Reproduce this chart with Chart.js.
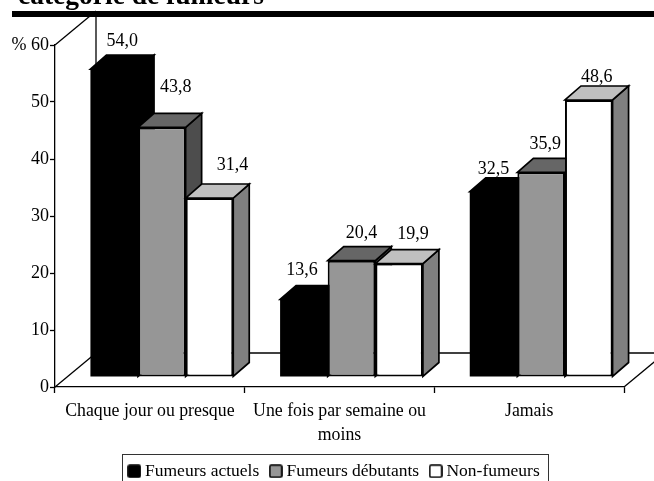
<!DOCTYPE html>
<html lang="fr">
<head>
<meta charset="utf-8">
<style>
  html, body { margin: 0; padding: 0; background: #fff; overflow: hidden; }
  #wrap { width: 654px; height: 481px; }
</style>
<script src="https://cdn.jsdelivr.net/npm/chart.js@4/dist/chart.umd.min.js"></script>
</head>
<body>
<div id="wrap"><canvas id="chart" width="654" height="481"></canvas></div>
<script>
const categories = [["Chaque jour ou presque"], ["Une fois par semaine ou", "moins"], ["Jamais"]];
const fumeursActuels = [54.0, 13.6, 32.5];
const fumeursDebutants = [43.8, 20.4, 35.9];
const nonFumeurs = [31.4, 19.9, 48.6];
const yTicks = [0, 10, 20, 30, 40, 50, 60];
const heading = "catégorie de fumeurs";

// Hand-placed offsets of the value labels, relative to the centre of each bar's top face.
const labelShiftActuels = [[0, -9], [-10, -10], [-8, -4]];
const labelShiftDebutants = [[6, -21], [2, -9], [-4, -9]];
const labelShiftNonFumeurs = [[15, -14], [6, -11], [0, -4]];

const SERIF = '"Liberation Serif", "Times New Roman", serif';
const INK = '#000';
const DEPTH_X = 41, DEPTH_Y = 34;     // full floor depth of the oblique projection
const BAR_DX = 16, BAR_DY = 14;       // depth of a single bar
const LIFT_X = 12, LIFT_Y = 10;       // bars stand inside the floor, not on its front edge

const faces = [
  { front: '#000000', top: '#000000', side: '#000000' },
  { front: '#969696', top: '#666666', side: '#4d4d4d' },
  { front: '#ffffff', top: '#c0c0c0', side: '#808080' }
];
const shifts = [labelShiftActuels, labelShiftDebutants, labelShiftNonFumeurs];

function swatch(color) {
  const c = document.createElement('canvas');
  c.width = 14; c.height = 14;
  const g = c.getContext('2d');
  g.fillStyle = color;
  g.strokeStyle = INK;
  g.lineWidth = 1.7;
  g.beginPath();
  g.roundRect(1, 1, 12, 12, 1.5);
  g.fill();
  g.stroke();
  return c;
}

function polygon(ctx, pts, fill) {
  ctx.beginPath();
  pts.forEach((p, i) => i ? ctx.lineTo(p[0], p[1]) : ctx.moveTo(p[0], p[1]));
  ctx.closePath();
  ctx.fillStyle = fill;
  ctx.fill();
  ctx.stroke();
}

function line(ctx, x0, y0, x1, y1) {
  ctx.beginPath();
  ctx.moveTo(x0, y0);
  ctx.lineTo(x1, y1);
  ctx.stroke();
}

function drawValueLabels(chart) {
  const { ctx } = chart;
  ctx.save();
  ctx.font = '18px ' + SERIF;
  ctx.fillStyle = INK;
  ctx.textAlign = 'center';
  ctx.textBaseline = 'alphabetic';
  chart.data.datasets.forEach((ds, di) => {
    chart.getDatasetMeta(di).data.forEach((bar, i) => {
      const p = bar.getProps(['x', 'y'], true);
      const s = shifts[di][i];
      const text = ds.data[i].toFixed(1).replace('.', ',');
      ctx.fillText(text, p.x + LIFT_X + BAR_DX / 2 + s[0], p.y - LIFT_Y - BAR_DY + s[1]);
    });
  });
  ctx.restore();
}

const obliqueBars = {
  id: 'obliqueBars',
  afterLayout(chart) {
    // Legend sits right of the page centre, low against the bottom edge.
    const lg = chart.legend;
    const dx = 24;
    lg.left += dx; lg.right += dx;
    lg.top = 448;
    lg.bottom = lg.top + lg.height;
    // The category labels run on two lines and need room above the legend frame.
    chart.scales.x.bottom = 453;
  },
  beforeDatasetsDraw(chart) {
    const { ctx, chartArea: a } = chart;
    ctx.save();
    ctx.strokeStyle = INK;
    ctx.lineWidth = 1.3;
    // back wall and floor
    line(ctx, a.left, a.top, a.left + DEPTH_X, a.top - DEPTH_Y);
    line(ctx, a.left + DEPTH_X, a.top - DEPTH_Y, a.left + DEPTH_X, a.bottom - DEPTH_Y);
    line(ctx, a.left, a.bottom, a.left + DEPTH_X, a.bottom - DEPTH_Y);
    line(ctx, a.left + DEPTH_X, a.bottom - DEPTH_Y, a.right + DEPTH_X, a.bottom - DEPTH_Y);
    line(ctx, a.right, a.bottom, a.right + DEPTH_X, a.bottom - DEPTH_Y);

    // bars, painted series by series so each one overlaps the side of the previous
    ctx.translate(LIFT_X, -LIFT_Y);
    ctx.lineWidth = 1.7;
    ctx.lineJoin = 'miter';
    chart.data.datasets.forEach((ds, di) => {
      const face = faces[di];
      chart.getDatasetMeta(di).data.forEach((bar) => {
        const p = bar.getProps(['x', 'y', 'base', 'width'], true);
        const l = p.x - p.width / 2, r = p.x + p.width / 2;
        polygon(ctx, [[r, p.y], [r + BAR_DX, p.y - BAR_DY], [r + BAR_DX, p.base - BAR_DY], [r, p.base]], face.side);
        polygon(ctx, [[l, p.y], [l + BAR_DX, p.y - BAR_DY], [r + BAR_DX, p.y - BAR_DY], [r, p.y]], face.top);
        bar.draw(ctx, a);
      });
    });
    ctx.restore();
    drawValueLabels(chart);
    return false;
  },
  afterDraw(chart) {
    const { ctx } = chart;
    ctx.save();
    // heading cut by the top of the page, with its thick rule
    ctx.fillStyle = INK;
    ctx.font = 'bold 27.5px ' + SERIF;
    ctx.textAlign = 'left';
    ctx.textBaseline = 'alphabetic';
    ctx.fillText(heading, 18, 4);
    ctx.fillRect(12, 11, 642, 6);
    // frame of the legend
    ctx.strokeStyle = '#333';
    ctx.lineWidth = 1;
    ctx.strokeRect(122.5, 454.5, 426, 30);
    ctx.restore();
  }
};

new Chart(document.getElementById('chart'), {
  type: 'bar',
  plugins: [obliqueBars],
  data: {
    labels: categories,
    datasets: [
      { label: 'Fumeurs actuels', data: fumeursActuels, backgroundColor: faces[0].front, borderWidth: 0 },
      { label: 'Fumeurs débutants', data: fumeursDebutants, backgroundColor: faces[1].front, borderColor: INK, borderWidth: 2 },
      { label: 'Non-fumeurs', data: nonFumeurs, backgroundColor: faces[2].front, borderColor: INK, borderWidth: 2 }
    ]
  },
  options: {
    responsive: false,
    animation: false,
    events: [],
    layout: { padding: { left: 0, right: 30, top: 45, bottom: 0 } },
    datasets: { bar: { categoryPercentage: 0.753, barPercentage: 1, borderSkipped: false } },
    scales: {
      x: {
        afterFit(s) { s.height = 94 - s.chart.legend.height; },
        border: { display: true, color: INK, width: 1.3 },
        grid: { display: true, offset: true, drawOnChartArea: false, drawTicks: true, tickLength: 6, tickColor: INK, tickWidth: 1.3 },
        ticks: {
          autoSkip: false, maxRotation: 0, minRotation: 0, padding: 6, color: INK,
          font: { family: SERIF, size: 17.8, lineHeight: 1.35 }
        }
      },
      y: {
        min: 0, max: 60,
        afterFit(s) { s.width = 55; },
        afterBuildTicks(s) { s.ticks = yTicks.map((v) => ({ value: v })); },
        border: { display: true, color: INK, width: 1.3 },
        grid: { display: true, drawOnChartArea: false, drawTicks: true, tickLength: 5, tickColor: INK, tickWidth: 1.3 },
        ticks: {
          padding: 1, color: INK,
          font: { family: SERIF, size: 18 },
          callback: (v) => (v === 60 ? '% 60' : String(v))
        }
      }
    },
    plugins: {
      tooltip: { enabled: false },
      title: { display: false },
      legend: {
        position: 'bottom',
        labels: {
          usePointStyle: true,
          pointStyleWidth: 4,
          boxHeight: 12,
          padding: 14.5,
          color: INK,
          font: { family: SERIF, size: 17.5 },
          generateLabels(chart) {
            return chart.data.datasets.map((ds, i) => ({
              text: ds.label,
              fontColor: INK,
              datasetIndex: i,
              pointStyle: swatch(faces[i].front),
              hidden: false
            }));
          }
        }
      }
    }
  }
});
</script>
</body>
</html>
